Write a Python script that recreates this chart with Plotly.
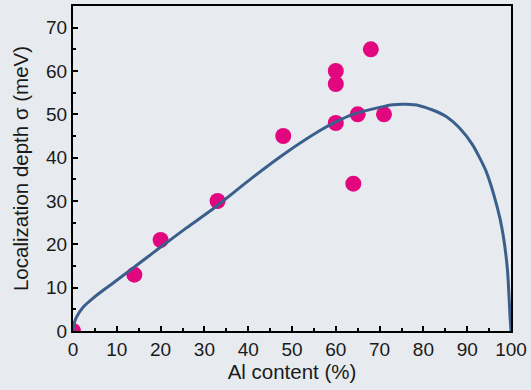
import plotly.graph_objects as go

# Measured data points
al_pts = [0, 14, 20, 33, 48, 60, 60, 60, 64, 65, 68, 71]
sigma_pts = [0, 13, 21, 30, 45, 60, 57, 48, 34, 50, 65, 50]

# Model curve
al_curve = [0, 0.2, 0.8, 2.3, 4.6, 6.9, 10, 13, 16.8, 19.8, 25.9, 32, 41.1, 48.7, 56.3, 60.1,
            63.9, 70, 73, 76.1, 79.1, 82.1, 85.2, 88.2, 91.2, 94.3, 96.9, 98.1, 99.2, 99.8, 100]
sigma_curve = [0, 1.5, 3.2, 5.5, 7.6, 9.4, 11.7, 14.0, 16.9, 19.2, 23.8, 28.2, 35.5, 41.2, 46.2, 48.3,
               50.0, 51.6, 52.2, 52.3, 52.0, 51.0, 49.5, 46.9, 43.0, 36.9, 28.4, 22.8, 14.0, 3.0, 0]

x_ticks = [0, 10, 20, 30, 40, 50, 60, 70, 80, 90, 100]
y_ticks = [0, 10, 20, 30, 40, 50, 60, 70]

bg = "#e7ebef"
font = "Liberation Sans, Arial, sans-serif"

fig = go.Figure()
fig.add_trace(go.Scatter(x=al_pts, y=sigma_pts, mode="markers",
                         marker=dict(size=16, color="#e2077f", line=dict(width=0)),
                         showlegend=False))
fig.add_trace(go.Scatter(x=al_curve, y=sigma_curve, mode="lines",
                         line=dict(color="#3b5f8d", width=3, shape="spline", smoothing=0.6),
                         showlegend=False))

axis_common = dict(showline=True, linecolor="black", linewidth=2, mirror=True,
                   ticks="inside", ticklen=5, tickwidth=1.5, tickcolor="black",
                   showgrid=False, zeroline=False,
                   tickfont=dict(family=font, size=19, color="#1a1a1a"),
                   minor=dict(ticks="inside", ticklen=3, tickwidth=1.5, tickcolor="black", showgrid=False))

fig.update_xaxes(range=[0, 100], tickvals=x_ticks,
                 title=dict(text="Al content (%)", font=dict(family=font, size=20.5, color="#1a1a1a"), standoff=4),
                 **axis_common)
fig.update_xaxes(minor=dict(dtick=5))
fig.update_yaxes(range=[0, 75], tickvals=y_ticks,
                 title=dict(text="Localization depth σ (meV)", font=dict(family=font, size=20.5, color="#1a1a1a"), standoff=12),
                 **axis_common)
fig.update_yaxes(minor=dict(dtick=5))

fig.update_layout(width=531, height=390, paper_bgcolor=bg, plot_bgcolor=bg,
                  margin=dict(l=73, r=19, t=4, b=59))
fig.write_html("out.html")
